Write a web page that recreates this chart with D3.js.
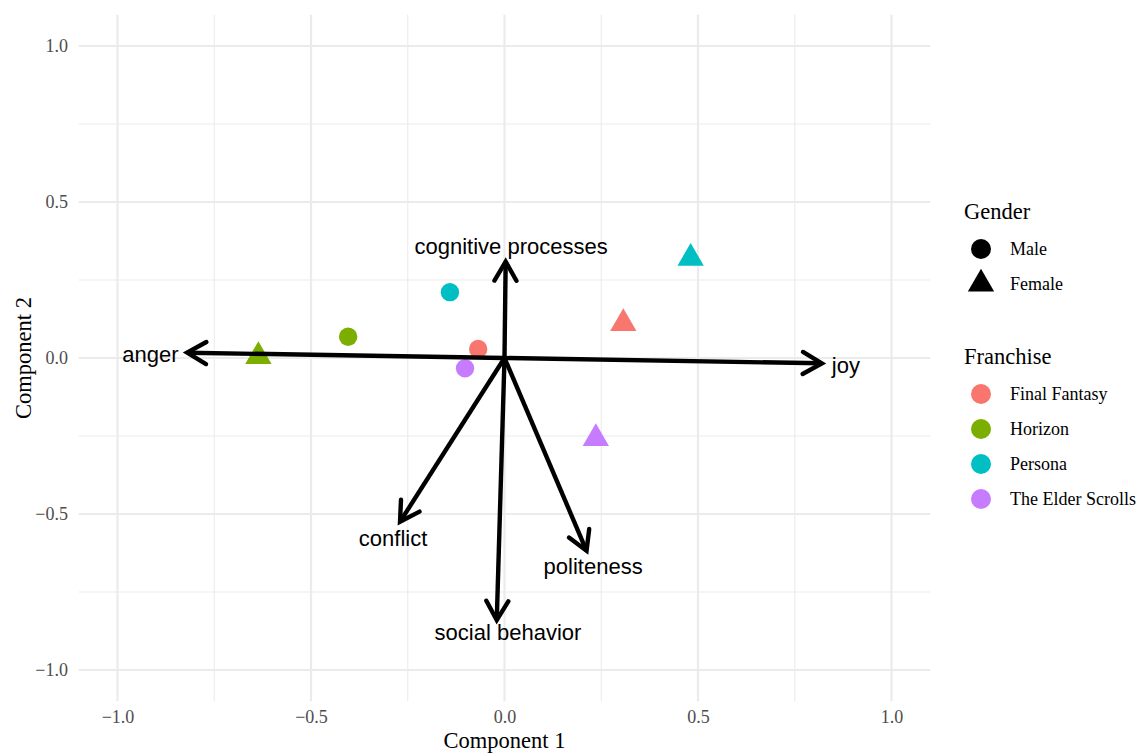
<!DOCTYPE html>
<html>
<head>
<meta charset="utf-8">
<script src="https://cdn.jsdelivr.net/npm/d3@7"></script>
<style>
body { margin: 0; background: #fff; }
svg { display: block; }
</style>
</head>
<body>
<svg id="chart" width="1141" height="755"></svg>
<script>
// ---- data ----
const franchises = ["Final Fantasy", "Horizon", "Persona", "The Elder Scrolls"];
const franchiseColors = ["#F8766D", "#7CAE00", "#00BFC4", "#C77CFF"];
const genders = ["Male", "Female"];

const pointFranchise = ["Final Fantasy", "Final Fantasy", "Horizon", "Horizon", "Persona", "Persona", "The Elder Scrolls", "The Elder Scrolls"];
const pointGender    = ["Male", "Female", "Male", "Female", "Male", "Female", "Male", "Female"];
const pointX         = [-0.068, 0.307, -0.404, -0.636, -0.141, 0.481, -0.102, 0.236];
const pointY         = [0.029, 0.111, 0.068, 0.005, 0.211, 0.320, -0.033, -0.258];

const loadingNames = ["joy", "anger", "cognitive processes", "conflict", "politeness", "social behavior"];
const loadingX     = [0.820, -0.820, 0.003, -0.270, 0.212, -0.020];
const loadingY     = [-0.017, 0.017, 0.309, -0.525, -0.618, -0.840];
const labelX       = [0.882, -0.915, 0.017, -0.288, 0.229, 0.009];
const labelY       = [-0.024, 0.013, 0.359, -0.577, -0.667, -0.878];

const tickValues = [-1.0, -0.5, 0.0, 0.5, 1.0];
const minorTicks = [-0.75, -0.25, 0.25, 0.75];
const xTitle = "Component 1";
const yTitle = "Component 2";

// ---- layout ----
const svg = d3.select("#chart");
const x = d3.scaleLinear().domain([-1.1, 1.1]).range([78.8, 930.2]);
const y = d3.scaleLinear().domain([-1.1, 1.1]).range([701.2, 14.8]);
const color = d3.scaleOrdinal().domain(franchises).range(franchiseColors);
const serif = "'Liberation Serif', 'Times New Roman', serif";
const sans = "'Liberation Sans', Arial, sans-serif";
const gridCol = "#EBEBEB";

// grid
const g = svg.append("g");
minorTicks.forEach(v => {
  g.append("line").attr("x1", x(v)).attr("x2", x(v)).attr("y1", y.range()[1]).attr("y2", y.range()[0])
    .attr("stroke", gridCol).attr("stroke-width", 1.1);
  g.append("line").attr("y1", y(v)).attr("y2", y(v)).attr("x1", x.range()[0]).attr("x2", x.range()[1])
    .attr("stroke", gridCol).attr("stroke-width", 1.1);
});
tickValues.forEach(v => {
  g.append("line").attr("x1", x(v)).attr("x2", x(v)).attr("y1", y.range()[1]).attr("y2", y.range()[0])
    .attr("stroke", gridCol).attr("stroke-width", 2.2);
  g.append("line").attr("y1", y(v)).attr("y2", y(v)).attr("x1", x.range()[0]).attr("x2", x.range()[1])
    .attr("stroke", gridCol).attr("stroke-width", 2.2);
});

// axes (labels only)
const fmt = v => (v < 0 ? "\u2212" : "") + Math.abs(v).toFixed(1);
const xAxis = d3.axisBottom(x).tickValues(tickValues).tickFormat(fmt).tickSize(0).tickPadding(0);
const yAxis = d3.axisLeft(y).tickValues(tickValues).tickFormat(fmt).tickSize(0).tickPadding(0);
const gx = svg.append("g").attr("transform", "translate(0,710)").call(xAxis);
const gy = svg.append("g").attr("transform", "translate(68,0)").call(yAxis);
[gx, gy].forEach(a => {
  a.select(".domain").remove();
  a.selectAll("text").attr("font-family", serif).attr("font-size", 18).attr("fill", "#4D4D4D");
});
gx.selectAll("text").attr("dy", "0.71em");
gy.selectAll("text").attr("dy", "0.32em");

svg.append("text").attr("x", x(0)).attr("y", 748).attr("text-anchor", "middle")
  .attr("font-family", serif).attr("font-size", 22.5).attr("fill", "#000").text(xTitle);
svg.append("text").attr("transform", `translate(31,${y(0)}) rotate(-90)`).attr("text-anchor", "middle")
  .attr("font-family", serif).attr("font-size", 22.5).attr("fill", "#000").text(yTitle);

// points
const triSize = 300;
const circSize = Math.PI * 9.2 * 9.2;
const shape = gd => gd === "Male" ? d3.symbolCircle : d3.symbolTriangle;
const pts = pointX.map((v, i) => ({ x: v, y: pointY[i], f: pointFranchise[i], g: pointGender[i] }));
svg.append("g").selectAll("path").data(pts).join("path")
  .attr("transform", d => `translate(${x(d.x)},${y(d.y)})`)
  .attr("d", d => d3.symbol().type(shape(d.g)).size(d.g === "Male" ? circSize : triSize)())
  .attr("fill", d => color(d.f));

// arrows
const arr = svg.append("g");
const headLen = 22, headAng = Math.PI / 6;
loadingNames.forEach((n, i) => {
  const x0 = x(0), y0 = y(0), x1 = x(loadingX[i]), y1 = y(loadingY[i]);
  const ang = Math.atan2(y1 - y0, x1 - x0);
  const a1 = ang + Math.PI - headAng, a2 = ang + Math.PI + headAng;
  arr.append("line").attr("x1", x0).attr("y1", y0).attr("x2", x1).attr("y2", y1)
    .attr("stroke", "#000").attr("stroke-width", 4.4).attr("stroke-linecap", "butt");
  arr.append("path")
    .attr("d", `M${x1 + headLen * Math.cos(a1)},${y1 + headLen * Math.sin(a1)}L${x1},${y1}L${x1 + headLen * Math.cos(a2)},${y1 + headLen * Math.sin(a2)}`)
    .attr("fill", "none").attr("stroke", "#000").attr("stroke-width", 4.4)
    .attr("stroke-linecap", "round").attr("stroke-linejoin", "miter");
  arr.append("text").attr("x", x(labelX[i])).attr("y", y(labelY[i])).attr("dy", "0.35em")
    .attr("text-anchor", "middle").attr("font-family", sans).attr("font-size", 22).attr("fill", "#000").text(n);
});

// legends
const leg = svg.append("g").attr("font-family", serif);
leg.append("text").attr("x", 964).attr("y", 219).attr("font-size", 22.5).text("Gender");
genders.forEach((gd, i) => {
  const cy = 249 + i * 35;
  leg.append("path").attr("transform", `translate(981,${cy})`)
    .attr("d", d3.symbol().type(shape(gd)).size(gd === "Male" ? Math.PI * 100 : 300)())
    .attr("fill", "#000");
  leg.append("text").attr("x", 1010).attr("y", cy).attr("dy", "0.32em").attr("font-size", 18).text(gd);
});
leg.append("text").attr("x", 964).attr("y", 364).attr("font-size", 22.5).text("Franchise");
franchises.forEach((f, i) => {
  const cy = 394 + i * 35;
  leg.append("circle").attr("cx", 981).attr("cy", cy).attr("r", 10).attr("fill", color(f));
  leg.append("text").attr("x", 1010).attr("y", cy).attr("dy", "0.32em").attr("font-size", 18).text(f);
});
</script>
</body>
</html>
